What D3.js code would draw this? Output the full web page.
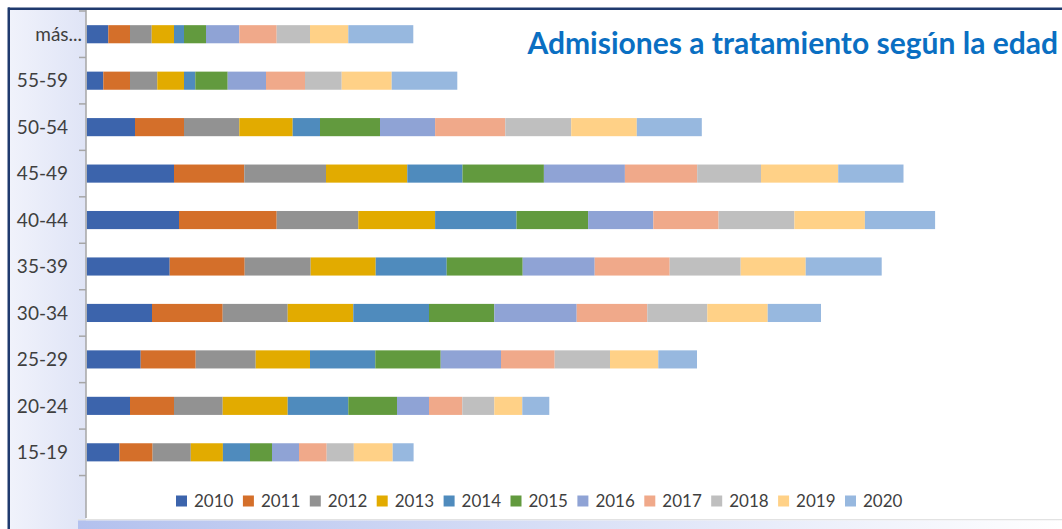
<!DOCTYPE html>
<html><head><meta charset="utf-8">
<script src="https://cdn.jsdelivr.net/npm/d3@7"></script>
<style>
html,body{margin:0;padding:0;background:#fff;}
svg{display:block;}
</style></head>
<body>
<svg id="c" width="1062" height="529"></svg>
<script>
// ---- data ----
const categories = ["más...", "55-59", "50-54", "45-49", "40-44", "35-39", "30-34", "25-29", "20-24", "15-19", ""];
const years = ["2010","2011","2012","2013","2014","2015","2016","2017","2018","2019","2020"];
const colors = ["#3c64ac","#d46f2a","#929292","#e2ab00","#4f8bbd","#629a3e","#8fa3d5","#f0a98a","#bfbfbf","#ffd187","#97b8df"];
const vMas   = [216, 217, 217, 223, 100, 220, 333, 374, 333, 383, 650];
const v55_59 = [166, 267, 273, 267, 113, 324, 383, 390, 367, 500, 656];
const v50_54 = [483, 490, 553, 534, 273, 600, 551, 702, 659, 656, 650];
const v45_49 = [873, 703, 817, 813, 552, 814, 810, 723, 638, 772, 653];
const v40_44 = [923, 977, 816, 768, 814, 716, 652, 653, 758, 705, 702];
const v35_39 = [830, 750, 660, 650, 710, 760, 720, 750, 710, 650, 760];
const v30_34 = [653, 707, 650, 656, 757, 653, 824, 706, 600, 604, 533];
const v25_29 = [540, 550, 600, 543, 653, 654, 603, 537, 553, 483, 387];
const v20_24 = [433, 440, 487, 650, 606, 487, 320, 333, 320, 280, 270];
const v15_19 = [328, 331, 382, 321, 271, 220, 270, 277, 271, 389, 209];
const title = "Admisiones a tratamiento según la edad";

const rows = {"más...": vMas, "55-59": v55_59, "50-54": v50_54, "45-49": v45_49, "40-44": v40_44,
  "35-39": v35_39, "30-34": v30_34, "25-29": v25_29, "20-24": v20_24, "15-19": v15_19};

const table = categories.filter(c => c !== "").map(c => {
  const o = {cat: c};
  years.forEach((y, i) => o[y] = rows[c][i]);
  return o;
});

const svg = d3.select("#c");
const W = 1062, H = 529;
const axisX = 86;

// defs
const defs = svg.append("defs");
const gl = defs.append("linearGradient").attr("id","gLeft").attr("x1","0").attr("x2","1").attr("y1","0").attr("y2","0");
gl.append("stop").attr("offset","0").attr("stop-color","#f0f2fb");
gl.append("stop").attr("offset","1").attr("stop-color","#dfe4f6");
const gb = defs.append("linearGradient").attr("id","gBot").attr("x1","0").attr("x2","1").attr("y1","0").attr("y2","0");
gb.append("stop").attr("offset","0").attr("stop-color","#b3c1ee");
gb.append("stop").attr("offset","1").attr("stop-color","#ffffff");
defs.append("clipPath").attr("id","plotClip").append("rect").attr("x",0).attr("y",10).attr("width",W).attr("height",508);

// background panels
svg.append("rect").attr("x",0).attr("y",0).attr("width",W).attr("height",H).attr("fill","#fff");
svg.append("rect").attr("x",10).attr("y",10).attr("width",axisX-10).attr("height",H-10).attr("fill","url(#gLeft)");
svg.append("rect").attr("x",78).attr("y",519).attr("width",W-78).attr("height",1.5).attr("fill","#e2e2e2");
svg.append("rect").attr("x",78).attr("y",520.5).attr("width",W-78).attr("height",H-520.5).attr("fill","url(#gBot)");
// frame
svg.append("rect").attr("x",8).attr("y",7.5).attr("width",W-8).attr("height",2.5).attr("fill","#1f3a6e");
svg.append("rect").attr("x",7.5).attr("y",7.5).attr("width",2.5).attr("height",H-7.5).attr("fill","#1f3a6e");

// scales
const y = d3.scaleBand().domain(categories).range([11, 522]).paddingInner(0.61).paddingOuter(0.305);
const x = d3.scaleLinear().domain([0, 9760]).range([axisX + 0.7, W + 0.7]);
const color = d3.scaleOrdinal().domain(years).range(colors);

const stack = d3.stack().keys(years)(table);

const plot = svg.append("g").attr("clip-path","url(#plotClip)");
plot.selectAll("g.series").data(stack).join("g").attr("class","series")
  .attr("fill", d => color(d.key))
  .selectAll("rect").data(d => d).join("rect")
  .attr("x", d => x(d[0]))
  .attr("width", d => x(d[1]) - x(d[0]))
  .attr("y", d => y(d.data.cat))
  .attr("height", y.bandwidth());

// axis
const step = y.step();
const boundaries = categories.map(c => y(c) - y.paddingInner() * step / 2);
boundaries.push(boundaries[boundaries.length-1] + step);
const axisG = svg.append("g");
axisG.append("line").attr("x1",axisX).attr("x2",axisX).attr("y1",10).attr("y2",518).attr("stroke","#a6a6a6").attr("stroke-width",1.5);
axisG.selectAll("line.tk").data(boundaries.filter(b => b <= 519)).join("line").attr("class","tk")
  .attr("x1",79).attr("x2",axisX).attr("y1",d => d).attr("y2",d => d)
  .attr("stroke","#a6a6a6").attr("stroke-width",1.5);

const yAxis = d3.axisLeft(y).tickSize(0).tickPadding(0);
const ag = svg.append("g").attr("transform","translate(0,0)").call(yAxis);
ag.select(".domain").remove();
ag.selectAll(".tick text")
  .attr("x", d => d === "más..." ? 82 : 68)
  .attr("dy","0.35em")
  .attr("font-family","Lato, 'Open Sans', sans-serif")
  .attr("font-size", 19)
  .attr("fill","#3f3f3f")
  .attr("text-anchor","end");

// title
const t = svg.append("text").attr("x",1058).attr("y",54).attr("text-anchor","end")
  .attr("font-family","Lato, 'Open Sans', sans-serif").attr("font-weight","bold")
  .attr("fill","#0a6fc2").attr("font-size",26).text(title);
const tw = t.node().getComputedTextLength();
t.attr("font-size", 26 * 531 / tw);

// legend
const lg = svg.append("g");
const items = lg.selectAll("g").data(years).join("g")
  .attr("transform", (d,i) => `translate(${176 + i*66.9},0)`);
items.append("rect").attr("x",0).attr("y",495.5).attr("width",11).attr("height",11).attr("fill", d => color(d));
items.append("text").attr("x",18).attr("y",507).text(d => d)
  .attr("font-family","Lato, 'Open Sans', sans-serif").attr("font-size",17).attr("fill","#3f3f3f");
</script>
</body></html>
